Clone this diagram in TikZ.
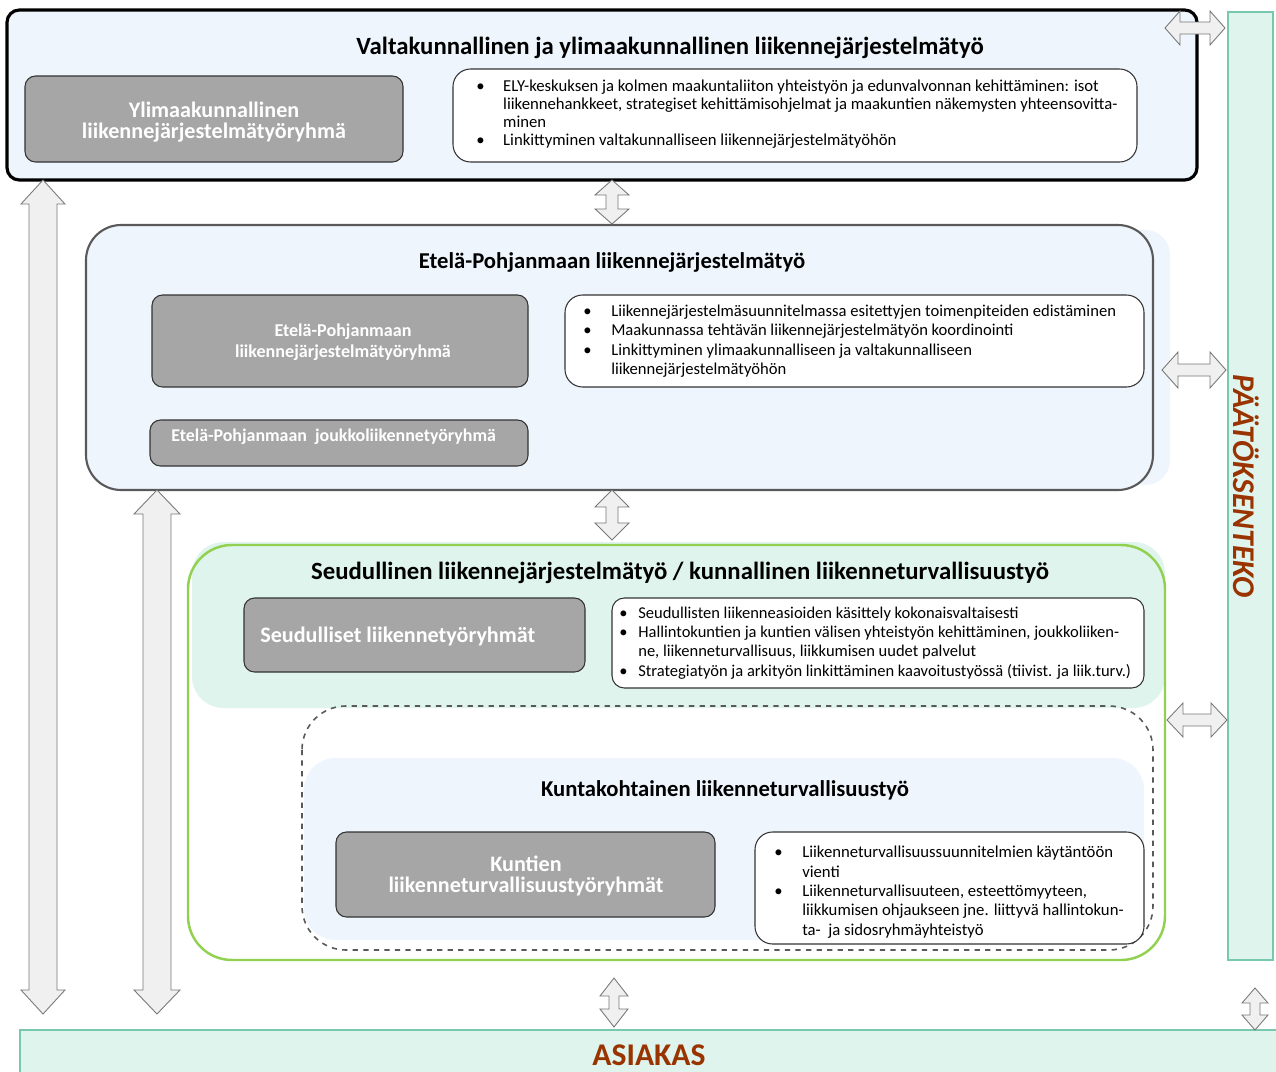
\documentclass[tikz,border=0pt]{standalone}
\usepackage{fontspec}
\setmainfont{Carlito}
\definecolor{lblue}{RGB}{238,245,252}
\definecolor{lgreen}{RGB}{222,244,237}
\definecolor{boxgrey}{RGB}{166,166,166}
\definecolor{decbrown}{RGB}{153,51,0}
\definecolor{gline}{RGB}{146,208,80}
\definecolor{tealline}{RGB}{120,200,175}
\definecolor{arrfill}{RGB}{240,240,240}
\definecolor{arrline}{RGB}{120,120,120}
\newcommand{\vda}[6]{\draw[darr] (#1,#2) -- (#1+#4,#2+#6) -- (#1+#5,#2+#6) -- (#1+#5,#3-#6) -- (#1+#4,#3-#6) -- (#1,#3) -- (#1-#4,#3-#6) -- (#1-#5,#3-#6) -- (#1-#5,#2+#6) -- (#1-#4,#2+#6) -- cycle;}
\newcommand{\hda}[6]{\draw[darr] (#2,#1) -- (#2+#6,#1-#4) -- (#2+#6,#1-#5) -- (#3-#6,#1-#5) -- (#3-#6,#1-#4) -- (#3,#1) -- (#3-#6,#1+#4) -- (#3-#6,#1+#5) -- (#2+#6,#1+#5) -- (#2+#6,#1+#4) -- cycle;}
\newcommand{\bi}[1]{\makebox[#1][l]{•}}
\newcommand{\hi}[1]{\hspace*{#1}}
\tikzset{
  title/.style={font=\bfseries\fontsize{14.1}{16}\selectfont, inner sep=0},
  titlesm/.style={font=\bfseries\fontsize{12.9}{15}\selectfont, inner sep=0},
  greybox/.style={draw=black!80, fill=boxgrey, rounded corners=6pt, line width=0.6pt},
  gtext/.style={text=white, align=center, inner sep=0},
  whitebox/.style={draw=black!80, fill=white, rounded corners=7pt, line width=0.6pt},
  btext/.style={align=left, inner sep=0, anchor=west},
  darr/.style={draw=arrline, fill=arrfill, line width=0.5pt},
  sidetext/.style={text=decbrown, font=\bfseries\fontsize{18}{20}\selectfont, inner sep=0}
}
\begin{document}
\begin{tikzpicture}[x=0.02cm, y=-0.02cm]
\useasboundingbox (0,0) rectangle (1276,1072);
% side bars
\draw[fill=lgreen, draw=tealline, line width=0.8pt] (1228,12) rectangle (1273,960);
\node[sidetext, rotate=-90, font=\bfseries\itshape\fontsize{18}{20}\selectfont] (paatos) at (1246,486) {PÄÄTÖKSENTEKO};
\draw[fill=lgreen, draw=tealline, line width=0.8pt] (20,1080) -- (20,1030) -- (1280,1030) -- (1280,1080);
\node[sidetext] (asiakas) at (649,1055) {ASIAKAS};

% top box
\draw[fill=lblue, draw=black, line width=1.8pt, rounded corners=7pt] (7,10) rectangle (1197,180);
\node[title] (t1) at (670,48) {Valtakunnallinen ja ylimaakunnallinen liikennejärjestelmätyö};
\draw[greybox] (25,76) rectangle (403,162);
\node[gtext, font=\bfseries\fontsize{12.6}{11.6}\selectfont] (g1) at (214,122) {Ylimaakunnallinen\\liikennejärjestelmätyöryhmä};
\draw[whitebox, rounded corners=10pt] (453,69) rectangle (1137,162);
\node[btext, font=\fontsize{9.5}{10.2}\selectfont] (b1) at (476,114) {\bi{15.3pt}ELY-keskuksen ja kolmen maakuntaliiton yhteistyön ja edunvalvonnan kehittäminen: isot\\\hi{15.3pt}liikennehankkeet, strategiset kehittämisohjelmat ja maakuntien näkemysten yhteensovitta-\\\hi{15.3pt}minen\\\bi{15.3pt}Linkittyminen valtakunnalliseen liikennejärjestelmätyöhön};

% middle box
\draw[fill=lblue, draw=none, rounded corners=14pt] (100,230) rectangle (1170,485);
\draw[fill=lblue, draw=black!65, line width=1.2pt, rounded corners=20pt] (86,225) rectangle (1153,490);
\node[titlesm] (t2) at (612,262) {Etelä-Pohjanmaan liikennejärjestelmätyö};
\draw[greybox] (152,295) rectangle (528,387);
\node[gtext, font=\bfseries\fontsize{10.3}{12}\selectfont] (g2) at (343,342) {Etelä-Pohjanmaan\\liikennejärjestelmätyöryhmä};
\draw[whitebox, rounded corners=10pt] (565,295) rectangle (1144,387);
\node[btext, font=\fontsize{9.45}{11}\selectfont] (b2) at (583,341) {\bi{15.9pt}Liikennejärjestelmäsuunnitelmassa esitettyjen toimenpiteiden edistäminen\\\bi{15.9pt}Maakunnassa tehtävän liikennejärjestelmätyön koordinointi\\\bi{15.9pt}Linkittyminen ylimaakunnalliseen ja valtakunnalliseen\\\hi{15.9pt}liikennejärjestelmätyöhön};
\draw[greybox] (150,420) rectangle (528,466);
\node[gtext, anchor=west, font=\bfseries\fontsize{10.2}{12}\selectfont] (g3) at (171,437) {Etelä-Pohjanmaan\ \ joukkoliikennetyöryhmä};

% green section
\draw[fill=lgreen, draw=none, rounded corners=18pt] (192,542) rectangle (1165,708);
\draw[draw=gline, line width=1.4pt, rounded corners=25pt] (188,545) rectangle (1165,960);
\node[title] (t3) at (680,573) {Seudullinen liikennejärjestelmätyö / kunnallinen liikenneturvallisuustyö};
\draw[greybox] (244,598) rectangle (585,672);
\node[gtext, anchor=west, font=\bfseries\fontsize{12.6}{13}\selectfont] (g4) at (260,636) {Seudulliset liikennetyöryhmät};
\draw[whitebox] (612,598) rectangle (1144,688);
\node[btext, font=\fontsize{9.4}{11}\selectfont] (b3) at (619,643) {\bi{10.8pt}Seudullisten liikenneasioiden käsittely kokonaisvaltaisesti\\\bi{10.8pt}Hallintokuntien ja kuntien välisen yhteistyön kehittäminen, joukkoliiken-\\\hi{10.8pt}ne, liikenneturvallisuus, liikkumisen uudet palvelut\\\bi{10.8pt}Strategiatyön ja arkityön linkittäminen kaavoitustyössä (tiivist. ja liik.turv.)};

% municipal
\draw[draw=black!65, dashed, line width=0.9pt, rounded corners=25pt] (302,706) rectangle (1153,950);
\draw[fill=lblue, draw=none, rounded corners=18pt] (304,758) rectangle (1144,940);
\node[titlesm] (t4) at (725,790) {Kuntakohtainen liikenneturvallisuustyö};
\draw[greybox] (336,832) rectangle (715,917);
\node[gtext, font=\bfseries\fontsize{12.6}{11.6}\selectfont] (g5) at (526,876) {Kuntien\\liikenneturvallisuustyöryhmät};
\draw[whitebox, rounded corners=10pt] (755,832) rectangle (1144,944);
\node[btext, font=\fontsize{9.5}{11}\selectfont] (b4) at (774,892) {\bi{15.9pt}Liikenneturvallisuussuunnitelmien käytäntöön\\\hi{15.9pt}vienti\\\bi{15.9pt}Liikenneturvallisuuteen, esteettömyyteen,\\\hi{15.9pt}liikkumisen ohjaukseen jne. liittyvä hallintokun-\\\hi{15.9pt}ta-\ \ ja sidosryhmäyhteistyö};

% arrows
\vda{43}{180}{1014}{22}{14}{24}
\vda{157}{490}{1014}{23}{14}{24}
\vda{612}{180}{224}{17}{6}{15}
\vda{612}{490}{540}{17}{6}{17}
\vda{614}{978}{1027}{14}{5}{18}
\vda{1255}{988}{1030}{13}{5}{15}
\hda{28}{1165}{1225}{17}{6}{15}
\hda{370}{1162}{1226}{18}{6}{16}
\hda{720}{1167}{1227}{17}{6}{16}
\end{tikzpicture}
\end{document}
